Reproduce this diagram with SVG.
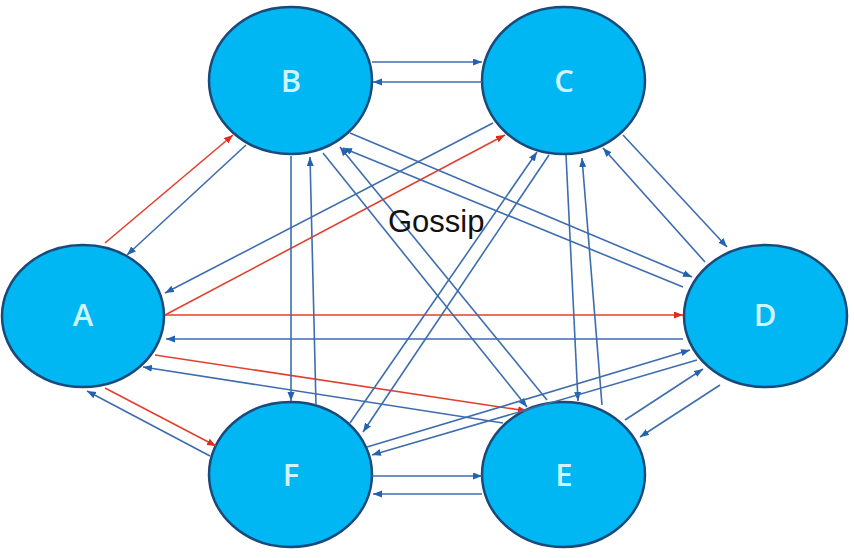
<svg xmlns="http://www.w3.org/2000/svg" width="854" height="558" viewBox="0 0 854 558">
<style>
.node ellipse{fill:#00B6F3;stroke:#1A4A7A;stroke-width:2.5}
.node text{font-family:"Open Sans","Noto Sans",sans-serif;font-size:31px;font-weight:600;fill:#CFF4FF;text-anchor:middle}
.b{stroke:#3D6DAE;stroke-width:1.6;fill:none;marker-end:url(#ab)}
.r{stroke:#E2402F;stroke-width:1.6;fill:none;marker-end:url(#ar)}
.title{font-family:"Liberation Sans",Arial,sans-serif;font-size:31px;fill:#111}
</style>
<defs>
<marker id="ab" markerUnits="userSpaceOnUse" markerWidth="10" markerHeight="8" refX="9" refY="3.5" orient="auto"><path d="M0,0 L9,3.5 L0,7 z" fill="#2262B0"/></marker>
<marker id="ar" markerUnits="userSpaceOnUse" markerWidth="10" markerHeight="8" refX="9" refY="3.5" orient="auto"><path d="M0,0 L9,3.5 L0,7 z" fill="#E02A1C"/></marker>
</defs>
<rect width="854" height="558" fill="#fff"/>
<g id="node-B" class="node"><ellipse cx="290.5" cy="80.5" rx="81.5" ry="73.5"/><text x="291" y="92">B</text></g>
<g id="node-C" class="node"><ellipse cx="563.5" cy="80.5" rx="81.5" ry="73.5"/><text x="564" y="92">C</text></g>
<g id="node-A" class="node"><ellipse cx="83" cy="316" rx="81" ry="71"/><text x="83" y="326">A</text></g>
<g id="node-D" class="node"><ellipse cx="765.5" cy="316" rx="81.5" ry="71"/><text x="765" y="326">D</text></g>
<g id="node-F" class="node"><ellipse cx="290.5" cy="474.5" rx="81.5" ry="72.5"/><text x="291" y="486">F</text></g>
<g id="node-E" class="node"><ellipse cx="563.5" cy="474.5" rx="81.5" ry="72.5"/><text x="564" y="486">E</text></g>
<g id="connectors">
<path class="r" d="M105,243 L233,135"/>
<path class="b" d="M246,145 L127,255"/>
<path class="b" d="M372,62 L482,62"/>
<path class="b" d="M482,82 L373,82"/>
<path class="r" d="M165,315 L505,135"/>
<path class="b" d="M493,123 L165,293"/>
<path class="r" d="M165,315 L683,315"/>
<path class="b" d="M683,339 L166,339"/>
<path class="r" d="M155,355 L527,411"/>
<path class="b" d="M503,423 L143,367"/>
<path class="r" d="M105,388 L216,446"/>
<path class="b" d="M210,456 L87,391"/>
<path class="b" d="M291,156 L291,401"/>
<path class="b" d="M316,405 L310,157"/>
<path class="b" d="M323,153 L527,407"/>
<path class="b" d="M547,400 L340,147"/>
<path class="b" d="M350,133 L692,277"/>
<path class="b" d="M683,287 L343,148"/>
<path class="b" d="M623,135 L727,247"/>
<path class="b" d="M705,262 L603,148"/>
<path class="b" d="M566,155 L578,401"/>
<path class="b" d="M602,405 L582,158"/>
<path class="b" d="M549,155 L363,432"/>
<path class="b" d="M350,423 L537,152"/>
<path class="b" d="M720,385 L640,437"/>
<path class="b" d="M625,420 L703,369"/>
<path class="b" d="M367,447 L690,350"/>
<path class="b" d="M697,360 L372,455"/>
<path class="b" d="M372,476 L482,476"/>
<path class="b" d="M482,494 L373,494"/>
</g>
<text class="title" x="388" y="232">Gossip</text>
</svg>
